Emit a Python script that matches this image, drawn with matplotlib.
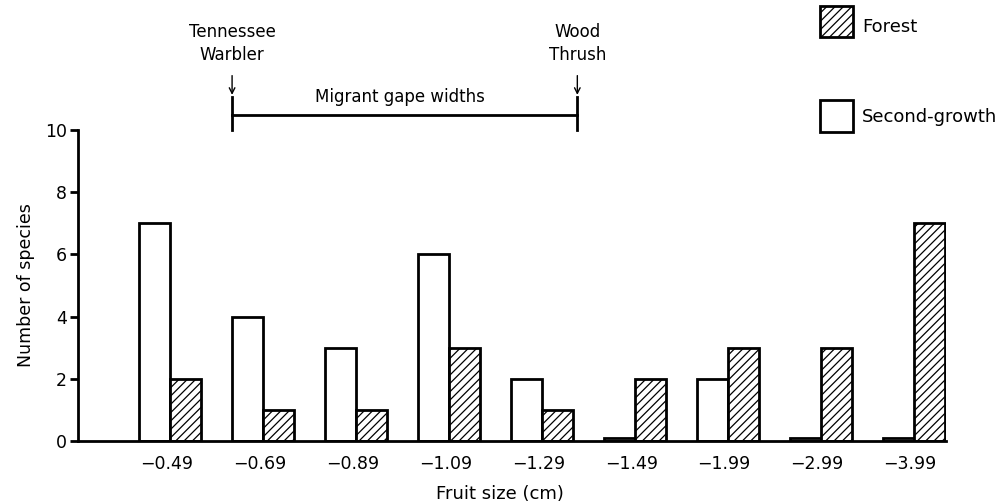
import numpy as np
import matplotlib.pyplot as plt
from matplotlib.patches import Rectangle

# fruit size classes (cm) and number of species per habitat
sizes = ["\u22120.49", "\u22120.69", "\u22120.89", "\u22121.09", "\u22121.29",
         "\u22121.49", "\u22121.99", "\u22122.99", "\u22123.99"]
second_growth = [7, 4, 3, 6, 2, 0, 2, 0, 0]
forest = [2, 1, 1, 3, 1, 2, 3, 3, 7]

plt.rcParams['font.family'] = 'DejaVu Sans'
plt.rcParams['hatch.linewidth'] = 0.9

fig = plt.figure(figsize=(10.04, 5.04), dpi=100)
ax = fig.add_axes([0.0777, 0.125, 0.865, 0.617])

x = np.arange(len(sizes))
w = 0.335
# empty classes are drawn as a thin slab on the axis
sg_h = np.maximum(second_growth, 0.1)
ax.bar(x - w / 2, sg_h, w, color="white", edgecolor="black", linewidth=2)
ax.bar(x + w / 2, forest, w, color="white", edgecolor="black", linewidth=2,
       hatch="////")

ax.set_xlim(-0.99, 8.35)
ax.set_ylim(0, 10)
ax.set_yticks([0, 2, 4, 6, 8, 10])
ax.set_xticks(x - 0.04)
ax.set_xticklabels(sizes)
ax.tick_params(axis="x", length=0, pad=10, labelsize=12.5)
ax.tick_params(axis="y", length=6, width=2, pad=2, labelsize=12.5)
for s in ["top", "right"]:
    ax.spines[s].set_visible(False)
for s in ["left", "bottom"]:
    ax.spines[s].set_linewidth(2)
ax.set_ylabel("Number of species", fontsize=12.5, labelpad=7)
fig.text(0.498, 0.02, "Fruit size (cm)", ha="center", va="center", fontsize=13)

# migrant gape width bracket
x1, x2 = 0.667, 4.38
ax.plot([x1, x2], [10.48, 10.48], color="black", lw=2, clip_on=False)
ax.plot([x1, x1], [10.0, 11.06], color="black", lw=2, clip_on=False)
ax.plot([x2, x2], [10.0, 11.06], color="black", lw=2, clip_on=False)
ax.text((x1 + x2) / 2 - 0.05, 11.06, "Migrant gape widths", ha="center",
        va="center", fontsize=12)
for xx, name in [(x1, "Tennessee\nWarbler"), (x2, "Wood\nThrush")]:
    ax.annotate("", xy=(xx, 11.13), xytext=(xx, 11.75),
                arrowprops=dict(arrowstyle="->", lw=1, color="black",
                                shrinkA=0, shrinkB=0), annotation_clip=False)
    ax.text(xx, 12.78, name, ha="center", va="center", fontsize=12,
            linespacing=1.35)

# legend boxes
def fx(px):
    return px / 1004

def fy(py):
    return 1 - py / 504

fig.add_artist(Rectangle((fx(820), fy(37)), fx(33), 31 / 504, facecolor="white",
                         edgecolor="black", lw=2, hatch="////",
                         transform=fig.transFigure))
fig.add_artist(Rectangle((fx(820), fy(132)), fx(33), 32 / 504, facecolor="white",
                         edgecolor="black", lw=2, transform=fig.transFigure))
fig.text(fx(862), fy(27), "Forest", ha="left", va="center", fontsize=13)
fig.text(fx(862), fy(117), "Second-growth", ha="left", va="center", fontsize=13)

fig.savefig("out.png", dpi=100)
